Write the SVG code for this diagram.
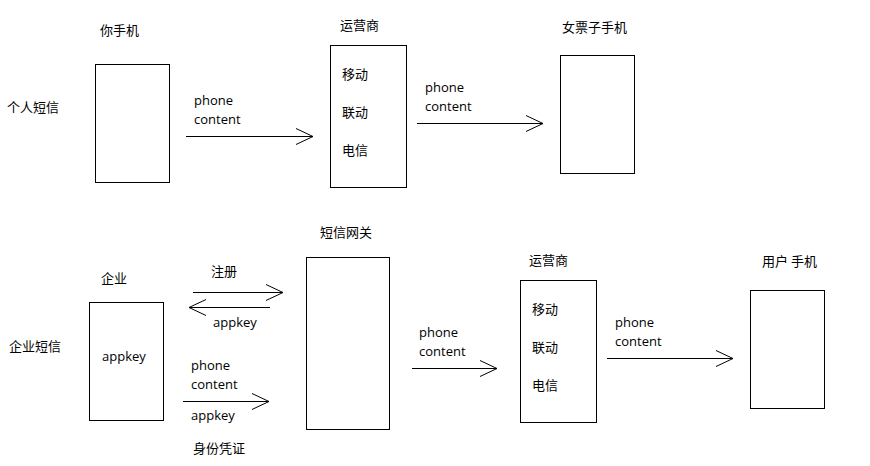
<svg xmlns="http://www.w3.org/2000/svg" width="870" height="466" viewBox="0 0 870 466">
<style>
.box{fill:#fff;stroke:#000;stroke-width:1}
.t{font-family:"Noto Sans CJK SC","Noto Sans",sans-serif;font-size:13px;fill:#000}
.e{font-family:"Open Sans","Noto Sans",sans-serif;font-size:13px;fill:#000}
.c{stroke:#000;stroke-width:1;fill:none}
</style>
<defs>
<marker id="ah" markerWidth="20" markerHeight="18" refX="18" refY="9" orient="auto" markerUnits="userSpaceOnUse" viewBox="0 0 20 18">
<path d="M1,1 L18,9 L1,17" fill="none" stroke="#000" stroke-width="1"/>
</marker>
</defs>
<rect width="870" height="466" fill="#fff"/>
<text class="t" x="7" y="112">个人短信</text>
<text class="t" x="9" y="351">企业短信</text>
<g id="phone-you">
<text class="t" x="100" y="35">你手机</text>
<rect class="box" x="95.5" y="64.5" width="74" height="118"/>
</g>
<g id="carrier-top">
<text class="t" x="340" y="30">运营商</text>
<rect class="box" x="330.5" y="45.5" width="76" height="142"/>
<text class="t" x="342" y="79">移动</text>
<text class="t" x="342" y="117">联动</text>
<text class="t" x="342" y="155">电信</text>
</g>
<g id="phone-gf">
<text class="t" x="562" y="32">女票子手机</text>
<rect class="box" x="560.5" y="55.5" width="74" height="118"/>
</g>
<g id="company">
<text class="t" x="101" y="283">企业</text>
<rect class="box" x="89.5" y="302.5" width="74" height="118"/>
<text class="e" x="102" y="361">appkey</text>
</g>
<g id="gateway">
<text class="t" x="320" y="237">短信网关</text>
<rect class="box" x="306.5" y="257.5" width="83" height="172"/>
</g>
<g id="carrier-bottom">
<text class="t" x="529" y="265">运营商</text>
<rect class="box" x="520.5" y="280.5" width="76" height="142"/>
<text class="t" x="532" y="314">移动</text>
<text class="t" x="532" y="352">联动</text>
<text class="t" x="532" y="390">电信</text>
</g>
<g id="phone-user">
<text class="t" x="762" y="266">用户 手机</text>
<rect class="box" x="750.5" y="290.5" width="74" height="118"/>
</g>
<g id="connectors">
<line class="c" x1="186" y1="136.5" x2="313" y2="136.5" marker-end="url(#ah)"/>
<text class="e" x="194" y="105">phone</text>
<text class="e" x="194" y="124">content</text>
<line class="c" x1="417" y1="123.5" x2="543" y2="123.5" marker-end="url(#ah)"/>
<text class="e" x="425" y="92">phone</text>
<text class="e" x="425" y="111">content</text>
<line class="c" x1="193" y1="292.5" x2="283" y2="292.5" marker-end="url(#ah)"/>
<text class="t" x="211" y="276">注册</text>
<line class="c" x1="270" y1="307.5" x2="189" y2="307.5" marker-end="url(#ah)"/>
<text class="e" x="213" y="327">appkey</text>
<line class="c" x1="183" y1="401.5" x2="269" y2="401.5" marker-end="url(#ah)"/>
<text class="e" x="191" y="370">phone</text>
<text class="e" x="191" y="389">content</text>
<text class="e" x="191" y="420">appkey</text>
<text class="t" x="193" y="453">身份凭证</text>
<line class="c" x1="412" y1="368.5" x2="497" y2="368.5" marker-end="url(#ah)"/>
<text class="e" x="419" y="337">phone</text>
<text class="e" x="419" y="356">content</text>
<line class="c" x1="607" y1="358.5" x2="733" y2="358.5" marker-end="url(#ah)"/>
<text class="e" x="615" y="327">phone</text>
<text class="e" x="615" y="346">content</text>
</g>
</svg>
